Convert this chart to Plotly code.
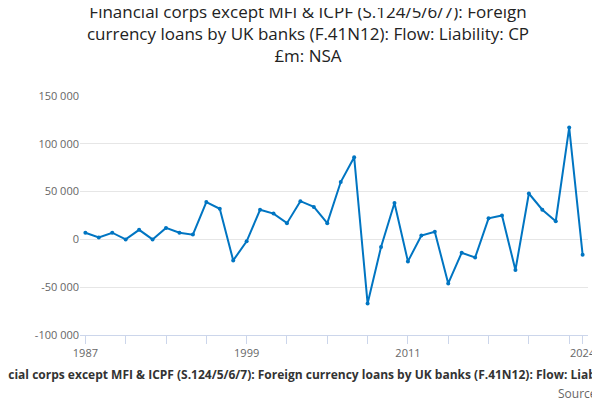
import plotly.graph_objects as go

years = list(range(1987, 2025))
values = [7000, 2000, 7000, 0, 10000, 0, 12000, 7000, 5000, 39000, 32000, -22000, -2000,
          31000, 27000, 17000, 40000, 34000, 17000, 60000, 86000, -67000, -8000, 38000,
          -23000, 4000, 8000, -46000, -14000, -19000, 22000, 25000, -32000, 48000, 31000,
          19000, 117000, -16000]
tick_years = list(range(1987, 2024, 3)) + [2024]
tick_labels = [str(y) if y in (1987, 1999, 2011, 2024) else "" for y in tick_years]
y_ticks = [-100000, -50000, 0, 50000, 100000, 150000]
y_labels = ["-100 000", "-50 000", "0", "50 000", "100 000", "150 000"]

title = "Financial corps except MFI & ICPF (S.124/5/6/7): Foreign currency loans by UK banks (F.41N12): Flow: Liability: CP £m: NSA"

fig = go.Figure(go.Scatter(x=years, y=values, mode="lines+markers",
                           line=dict(color="#0075c2", width=2), marker=dict(size=4, color="#0075c2")))
fig.update_layout(
    width=600, height=400, plot_bgcolor="white", paper_bgcolor="white",
    font=dict(family="Open Sans, DejaVu Sans", color="#333"),
    title=dict(text="Financial corps except MFI & ICPF (S.124/5/6/7): Foreign<br>currency loans by UK banks (F.41N12): Flow: Liability: CP<br>£m: NSA",
               x=0.5, y=0.975, yanchor="top", font=dict(size=17, color="#222")),
    margin=dict(l=72, r=20, t=88, b=73), showlegend=False,
    annotations=[
        dict(text="<b>" + title + "</b>", x=0.5, y=-0.12, xref="paper", yref="paper", showarrow=False,
             font=dict(size=12, color="#333"), yanchor="top"),
        dict(text="Source: Office for National Statistics", x=1.0, y=-0.2, xref="paper", yref="paper",
             showarrow=False, xanchor="left", xshift=-32, font=dict(size=12, color="#666"), yanchor="top"),
    ],
)
fig.update_xaxes(range=[1986.6, 2024.4], tickvals=tick_years, ticktext=tick_labels,
                 ticks="outside", ticklen=8, tickcolor="#ccd6eb", showline=True, linecolor="#ccd6eb",
                 showgrid=False, tickfont=dict(size=11, color="#666"))
fig.update_yaxes(range=[-100000, 150000], tickvals=y_ticks, ticktext=y_labels,
                 gridcolor="#e6e6e6", zeroline=False, tickfont=dict(size=11, color="#666"))
fig.write_html("out.html")
